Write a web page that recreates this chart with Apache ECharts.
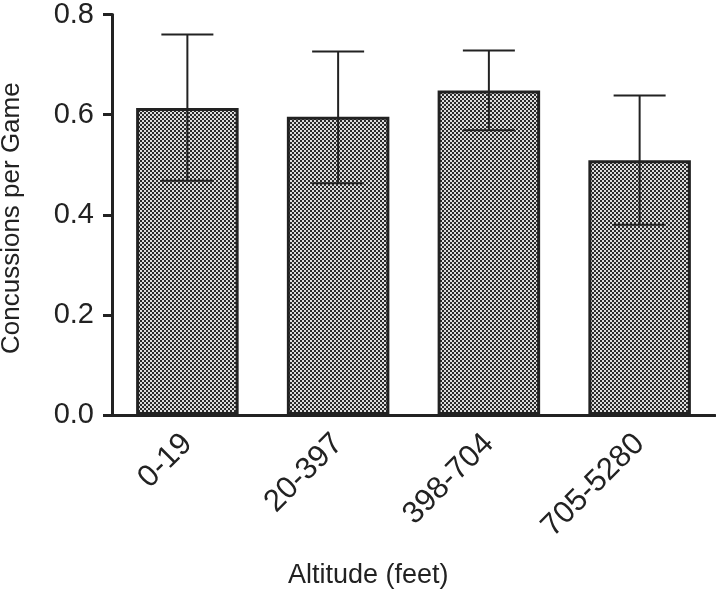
<!DOCTYPE html>
<html>
<head>
<meta charset="utf-8">
<script src="https://cdn.jsdelivr.net/npm/echarts@6/dist/echarts.min.js"></script>
<style>
  html, body { margin: 0; padding: 0; background: #fff; }
  #chart { width: 716px; height: 590px; }
</style>
</head>
<body>
<div id="chart"></div>
<script>
// data
var categories = ['0-19', '20-397', '398-704', '705-5280'];
var means = [0.613, 0.596, 0.648, 0.509];
var errLow = [0.468, 0.463, 0.569, 0.380];
var errHigh = [0.760, 0.726, 0.728, 0.638];
var yTicks = [0, 0.2, 0.4, 0.6, 0.8];

// stipple fill like the original print
function makePattern() {
  var c = document.createElement('canvas');
  c.width = 4; c.height = 4;
  var ctx = c.getContext('2d');
  ctx.fillStyle = '#dcdcdc';
  ctx.fillRect(0, 0, 4, 4);
  ctx.fillStyle = '#2a2a2a';
  ctx.fillRect(0, 0, 2, 2);
  ctx.fillRect(2, 2, 2, 2);
  return c;
}

var errData = categories.map(function (c, i) { return [i, errLow[i], errHigh[i]]; });

var chart = echarts.init(document.getElementById('chart'));
chart.setOption({
  animation: false,
  grid: { left: 112, right: 1, top: 13, bottom: 175 },
  xAxis: {
    type: 'category',
    data: categories,
    axisLine: { lineStyle: { color: '#222', width: 3 } },
    axisTick: { alignWithLabel: true, length: 8, lineStyle: { color: '#222', width: 3 } },
    axisLabel: {
      rotate: 45, margin: 24,
      fontFamily: 'Liberation Sans, Arial', fontSize: 31, color: '#222'
    }
  },
  yAxis: {
    type: 'value',
    min: 0, max: 0.8, interval: 0.2,
    splitLine: { show: false },
    axisLine: { show: true, lineStyle: { color: '#222', width: 3 } },
    axisTick: { show: true, length: 9, lineStyle: { color: '#222', width: 3 } },
    axisLabel: {
      margin: 18,
      fontFamily: 'Liberation Sans, Arial', fontSize: 29, color: '#222',
      formatter: function (v) { return v.toFixed(1); },
      customValues: yTicks
    }
  },
  graphic: [
    {
      type: 'text', left: 288, top: 562,
      style: { text: 'Altitude (feet)', font: '27px Liberation Sans, Arial', fill: '#222' }
    },
    {
      type: 'text', x: -1, y: 354, rotation: Math.PI / 2,
      style: { text: 'Concussions per Game', font: '26px Liberation Sans, Arial', fill: '#222' }
    }
  ],
  series: [
    {
      type: 'bar',
      data: means,
      barWidth: '68%',
      itemStyle: {
        color: { image: makePattern(), repeat: 'repeat' },
        borderColor: '#222',
        borderWidth: 3
      }
    },
    {
      type: 'custom',
      data: errData,
      z: 5,
      renderItem: function (params, api) {
        var lo = api.coord([api.value(0), api.value(1)]);
        var hi = api.coord([api.value(0), api.value(2)]);
        var hw = 26;
        var st = { stroke: '#222', lineWidth: 2 };
        return {
          type: 'group',
          children: [
            { type: 'line', shape: { x1: hi[0], y1: hi[1], x2: lo[0], y2: lo[1] }, style: st },
            { type: 'line', shape: { x1: hi[0] - hw, y1: hi[1], x2: hi[0] + hw, y2: hi[1] }, style: st },
            { type: 'line', shape: { x1: lo[0] - hw, y1: lo[1], x2: lo[0] + hw, y2: lo[1] }, style: st }
          ]
        };
      }
    }
  ]
});
</script>
</body>
</html>
